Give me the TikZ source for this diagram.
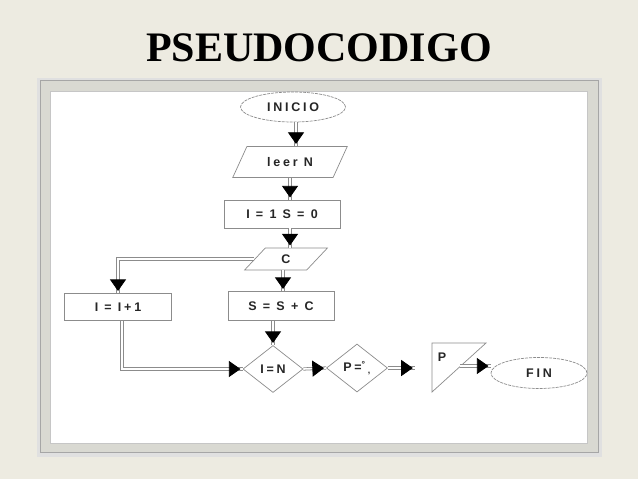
\documentclass[tikz,border=0pt]{standalone}
\usepackage{fontspec}
\setmainfont{Liberation Serif}
\newfontfamily\boxfont[LetterSpace=22]{Liberation Sans}
\usepackage{xcolor}
\usetikzlibrary{shapes.geometric,arrows.meta,decorations.markings,positioning}

\definecolor{slidebg}{HTML}{EDEBE1}
\definecolor{framegray}{HTML}{D9D9D2}
\definecolor{lineg}{HTML}{8C8C8C}

\begin{document}
\begin{tikzpicture}[
    x=1pt, y=-1pt,
    box/.style={draw=lineg, line width=0.7pt, fill=white, inner sep=1pt, text=black!85, font=\boxfont\bfseries\fontsize{12.5}{14}\selectfont},
    term/.style={box, ellipse, dash pattern=on 3pt off 1pt},
    io/.style={box, trapezium, trapezium left angle=55, trapezium right angle=125, trapezium stretches=true},
    proc/.style={box, rectangle},
    cond/.style={box, diamond, inner sep=0pt},
    arrow/.style={draw=lineg, line width=0.8pt, double=white, double distance=1.6pt,
        postaction={decorate}, decoration={markings,
        mark=at position 1 with {\arrow[black]{Triangle[width=20pt,length=15pt]}}}}
]
    \useasboundingbox (0,0) rectangle (638,479);
    \fill[slidebg] (0,0) rectangle (638,479);
    % titulo
    \node[font=\bfseries\fontsize{42}{46}\selectfont] (title) at (319,48) {PSEUDOCODIGO};
    % marco
    \fill[black!12] (37,78) rectangle (602,457);
    \draw[gray!70, fill=framegray] (40,80) rectangle (598,452);
    \draw[gray!45, fill=white] (50,91) rectangle (587,443);

    % diagrama
    \node[term, minimum width=105, minimum height=30] (inicio) at (293,107) {INICIO};
    \node[io, minimum width=115, minimum height=31] (leer) at (290,162) {leer N};
    \node[proc, minimum width=116, minimum height=28] (init) at (282,214) {I = 1 S = 0};
    \node[io, trapezium left angle=63, trapezium right angle=117, minimum width=83, minimum height=22] (c) at (286,259) {C};
    \node[proc, minimum width=107, minimum height=27] (incr) at (118,307) {I = I+1};
    \node[proc, minimum width=106, minimum height=29] (sum) at (281,306) {S = S + C};
    \node[cond, minimum width=60, minimum height=47] (cmp) at (273,369) {I=N};
    \node[cond, minimum width=61, minimum height=48] (prom) at (357,368) {P=\textsuperscript{°}\,\textsubscript{,}};
    \draw[draw=lineg, line width=0.7pt] (432,343) -- (486,343) -- (432,392) -- cycle;
    \node[text=black!85, font=\boxfont\bfseries\fontsize{12.5}{14}\selectfont] (salida) at (442,357) {P};
    \node[term, minimum width=96, minimum height=31] (fin) at (539,373) {FIN};
    \coordinate (tipP) at (415,368);
    \coordinate (srcF) at (460,366);

    \draw[arrow] ([xshift=3pt]inicio.south) -- ([xshift=3pt]inicio.south |- leer.north);
    \draw[arrow] (leer.south) -- (leer.south |- init.north);
    \draw[arrow] ([xshift=8pt]init.south) -- ([xshift=8pt]init.south |- c.north);
    \draw[arrow] ([xshift=-3pt]c.south) -- ([xshift=-3pt]c.south |- sum.north);
    \draw[arrow] (c.west) -| (incr.north);
    \draw[arrow] (cmp.north |- sum.south) -- (cmp.north);
    \draw[arrow] ([xshift=4pt]incr.south) |- (cmp.west);
    \draw[arrow] (cmp.east) -- (prom.west);
    \draw[arrow] (prom.east) -- (tipP);
    \draw[arrow] (srcF) -- (srcF -| fin.west);
\end{tikzpicture}
\end{document}
